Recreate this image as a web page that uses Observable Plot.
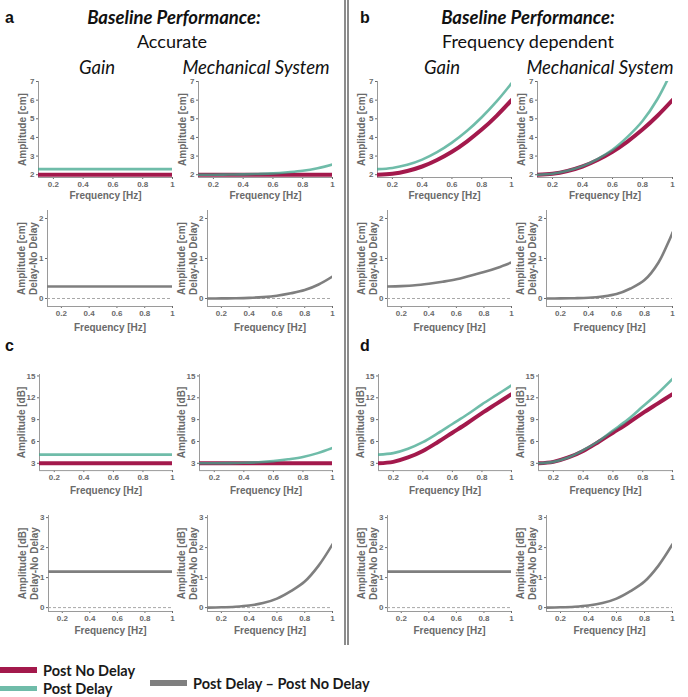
<!DOCTYPE html>
<html>
<head>
<meta charset="utf-8">
<script src="https://cdn.jsdelivr.net/npm/d3@7"></script>
<script src="https://cdn.jsdelivr.net/npm/@observablehq/plot@0.6"></script>
<style>
  html, body { margin: 0; padding: 0; background: #fff; }
  #root { position: relative; width: 688px; height: 697px; overflow: hidden; background: #fff; }
  .t { position: absolute; white-space: nowrap; transform: translate(-50%, -50%); color: #111; font-family: Lato, "Open Sans", sans-serif; }
  .l { position: absolute; white-space: nowrap; transform: translate(0, -50%); color: #1a1a1a; font-family: Lato, "Open Sans", sans-serif; font-weight: bold; font-size: 14.5px; }
  .bar { position: absolute; }
  .letter { position: absolute; font-family: "Liberation Sans", Arial, sans-serif; font-weight: bold; font-size: 16px; color: #111; transform: translate(0, -50%); }
</style>
</head>
<body>
<div id="root"></div>
<script>
// ---------------- data ----------------
const freq = [0.1, 0.2, 0.3, 0.4, 0.5, 0.6, 0.7, 0.8, 0.9, 1.0];
const xTicks = [0.2, 0.4, 0.6, 0.8, 1];
const yTicksCm = [2, 3, 4, 5, 6, 7];
const yTicksCmDiff = [0, 1, 2];
const yTicksDb = [3, 6, 9, 12, 15];
const yTicksDbDiff = [0, 1, 2, 3];

// a: accurate baseline, amplitude [cm]
const aGainNoDelay = [2.0, 2.0, 2.0, 2.0, 2.0, 2.0, 2.0, 2.0, 2.0, 2.0];
const aGainDelay   = [2.3, 2.3, 2.3, 2.3, 2.3, 2.3, 2.3, 2.3, 2.3, 2.3];
const aMechNoDelay = [2.0, 2.0, 2.0, 2.0, 2.0, 2.0, 2.0, 2.0, 2.0, 2.0];
const aMechDelay   = [2.0, 2.0, 2.01, 2.02, 2.04, 2.07, 2.13, 2.21, 2.35, 2.55];
const aGainDiff    = [0.3, 0.3, 0.3, 0.3, 0.3, 0.3, 0.3, 0.3, 0.3, 0.3];
const aMechDiff    = [0, 0.002, 0.006, 0.015, 0.035, 0.07, 0.13, 0.21, 0.35, 0.55];

// b: frequency-dependent baseline, amplitude [cm]
const bGainNoDelay = [2.0, 2.05, 2.2, 2.44, 2.79, 3.23, 3.78, 4.42, 5.16, 6.0];
const bGainDelay   = [2.3, 2.36, 2.53, 2.81, 3.21, 3.72, 4.34, 5.08, 5.93, 6.9];
const bMechNoDelay = [2.0, 2.05, 2.2, 2.44, 2.79, 3.23, 3.78, 4.42, 5.16, 6.0];
const bMechDelay   = [2.0, 2.05, 2.21, 2.46, 2.84, 3.34, 4.03, 4.88, 6.06, 7.65];
const bGainDiff    = [0.3, 0.31, 0.33, 0.37, 0.42, 0.48, 0.57, 0.66, 0.77, 0.9];
const bMechDiff    = [0, 0.002, 0.007, 0.018, 0.049, 0.11, 0.25, 0.46, 0.9, 1.65];

// c: accurate baseline, amplitude [dB]
const cGainNoDelay = [3.0, 3.0, 3.0, 3.0, 3.0, 3.0, 3.0, 3.0, 3.0, 3.0];
const cGainDelay   = [4.2, 4.2, 4.2, 4.2, 4.2, 4.2, 4.2, 4.2, 4.2, 4.2];
const cMechNoDelay = [3.0, 3.0, 3.0, 3.0, 3.0, 3.0, 3.0, 3.0, 3.0, 3.0];
const cMechDelay   = [3.0, 3.01, 3.03, 3.07, 3.15, 3.3, 3.55, 3.87, 4.4, 5.11];
const cGainDiff    = [1.2, 1.2, 1.2, 1.2, 1.2, 1.2, 1.2, 1.2, 1.2, 1.2];
const cMechDiff    = [0, 0.01, 0.03, 0.07, 0.15, 0.3, 0.55, 0.87, 1.4, 2.11];

// d: frequency-dependent baseline, amplitude [dB]
const dGainNoDelay = [3.0, 3.2, 3.8, 4.7, 5.9, 7.2, 8.5, 9.9, 11.2, 12.5];
const dGainDelay   = [4.2, 4.4, 5.0, 5.9, 7.1, 8.4, 9.7, 11.1, 12.4, 13.7];
const dMechNoDelay = [3.0, 3.2, 3.8, 4.7, 5.9, 7.2, 8.5, 9.9, 11.2, 12.5];
const dMechDelay   = [3.0, 3.2, 3.8, 4.8, 6.0, 7.5, 9.0, 10.8, 12.6, 14.6];
const dGainDiff    = [1.2, 1.2, 1.2, 1.2, 1.2, 1.2, 1.2, 1.2, 1.2, 1.2];
const dMechDiff    = [0, 0.01, 0.03, 0.07, 0.15, 0.3, 0.55, 0.87, 1.4, 2.11];

const legendLabels = ["Post No Delay", "Post Delay", "Post Delay \u2013 Post No Delay"];

// ---------------- style ----------------
const colNoDelay = "#a3194c";
const colDelay = "#3fa58c";
const colDiff = "#7f7f7f";
const axisCol = "#9a9a9a";
const textCol = "#6a6a6a";

const root = document.getElementById("root");

function toRows(arr) { return freq.map((f, i) => ({f, v: arr[i]})); }

function panel(o) {
  const mL = 44, mR = 8, mT = 8, mB = 30;
  const width = (o.x1 - o.x0) + mL + mR;
  const height = (o.yBot - o.yTop) + mT + mB;
  const marks = [
    Plot.ruleX([0.1], {stroke: axisCol, strokeWidth: 1}),
    Plot.ruleY([o.yDomain[0]], {stroke: axisCol, strokeWidth: 1})
  ];
  if (o.diff) {
    marks.push(Plot.ruleY([0], {stroke: "#a8a8a8", strokeWidth: 1, strokeDasharray: "3,2"}));
    marks.push(Plot.line(toRows(o.diff), {x: "f", y: "v", stroke: colDiff, strokeWidth: 2.6, curve: "catmull-rom", clip: true}));
  } else {
    marks.push(Plot.line(toRows(o.noDelay), {x: "f", y: "v", stroke: colNoDelay, strokeWidth: 4, curve: "catmull-rom", clip: true}));
    marks.push(Plot.line(toRows(o.delay), {x: "f", y: "v", stroke: colDelay, strokeOpacity: 0.75, strokeWidth: 2.6, curve: "catmull-rom", clip: true}));
  }
  marks.push(Plot.text(["Frequency [Hz]"], {text: d => d, frameAnchor: "bottom", dy: o.fdy, lineAnchor: "middle", fontSize: 10, fontWeight: "bold", fill: textCol}));
  marks.push(Plot.text([o.yLabel], {text: d => d, frameAnchor: "left", dx: o.ldx, rotate: -90, textAnchor: "middle", lineAnchor: "middle", lineHeight: 1.15, fontSize: 10, fontWeight: "bold", fill: textCol}));
  const svg = Plot.plot({
    width, height,
    marginLeft: mL, marginRight: mR, marginTop: mT, marginBottom: mB,
    style: {background: "transparent", overflow: "visible", fontFamily: "'Liberation Sans', Arial, sans-serif", fontSize: "8px", fontWeight: "bold", color: textCol},
    x: {domain: [0.1, 1], ticks: xTicks, tickFormat: d => d === 1 ? "1" : d.toFixed(1), tickSize: 2, tickPadding: 2, label: null},
    y: {domain: o.yDomain, ticks: o.yTicks, tickFormat: d => String(d), tickSize: 2, tickPadding: 2, label: null},
    marks
  });
  svg.style.position = "absolute";
  svg.style.left = (o.x0 - mL) + "px";
  svg.style.top = (o.yTop - mT) + "px";
  root.appendChild(svg);
}

const rows = {
  r1: {yTop: 81, yBot: 177, yDomain: [1.85, 7], yTicks: yTicksCm, yLabel: "Amplitude [cm]", fdy: 18, ldx: -16},
  r2: {yTop: 210, yBot: 306, yDomain: [-0.2, 2.2], yTicks: yTicksCmDiff, yLabel: "Amplitude [cm]\nDelay-No Delay", fdy: 21, ldx: -20},
  r3: {yTop: 373.5, yBot: 469.6, yDomain: [2, 15.2], yTicks: yTicksDb, yLabel: "Amplitude [dB]", fdy: 20, ldx: -18},
  r4: {yTop: 515, yBot: 611, yDomain: [-0.13, 3.07], yTicks: yTicksDbDiff, yLabel: "Amplitude [dB]\nDelay-No Delay", fdy: 19, ldx: -20}
};

// row 1
panel({...rows.r1, x0: 38, x1: 172, noDelay: aGainNoDelay, delay: aGainDelay});
panel({...rows.r1, x0: 198, x1: 332, noDelay: aMechNoDelay, delay: aMechDelay});
panel({...rows.r1, x0: 377, x1: 511, noDelay: bGainNoDelay, delay: bGainDelay});
panel({...rows.r1, x0: 537, x1: 672, noDelay: bMechNoDelay, delay: bMechDelay});
// row 2
panel({...rows.r2, x0: 47, x1: 172, diff: aGainDiff});
panel({...rows.r2, x0: 207, x1: 332, diff: aMechDiff});
panel({...rows.r2, x0: 387, x1: 511, diff: bGainDiff});
panel({...rows.r2, x0: 546, x1: 672, diff: bMechDiff});
// row 3
panel({...rows.r3, x0: 39, x1: 172, noDelay: cGainNoDelay, delay: cGainDelay});
panel({...rows.r3, x0: 199, x1: 332, noDelay: cMechNoDelay, delay: cMechDelay});
panel({...rows.r3, x0: 378, x1: 511, noDelay: dGainNoDelay, delay: dGainDelay});
panel({...rows.r3, x0: 538, x1: 672, noDelay: dMechNoDelay, delay: dMechDelay});
// row 4
panel({...rows.r4, x0: 48, x1: 172, diff: cGainDiff});
panel({...rows.r4, x0: 207, x1: 332, diff: cMechDiff});
panel({...rows.r4, x0: 387, x1: 511, diff: dGainDiff});
panel({...rows.r4, x0: 546, x1: 672, diff: dMechDiff});

// ---------------- text decorations ----------------
function addText(cls, txt, x, y, css) {
  const d = document.createElement("div");
  d.className = cls;
  d.textContent = txt;
  d.style.left = x + "px";
  d.style.top = y + "px";
  Object.assign(d.style, css || {});
  root.appendChild(d);
  return d;
}
function addBar(x, y, w, h, color) {
  const d = document.createElement("div");
  d.className = "bar";
  Object.assign(d.style, {left: x + "px", top: y + "px", width: w + "px", height: h + "px", background: color});
  root.appendChild(d);
}

// panel letters
addText("letter", "a", 5, 18);
addText("letter", "b", 360, 18);
addText("letter", "c", 5, 346);
addText("letter", "d", 360, 346);

// headers
const hBold = {fontWeight: "bold", fontStyle: "italic", fontSize: "18.5px"};
const hReg = {fontSize: "18px"};
const hIt = {fontStyle: "italic", fontSize: "18.5px"};
addText("t", "Baseline Performance:", 174, 17, hBold);
addText("t", "Accurate", 172, 41, hReg);
addText("t", "Gain", 97, 67, hIt);
addText("t", "Mechanical System", 256, 67, hIt);
addText("t", "Baseline Performance:", 528, 17, hBold);
addText("t", "Frequency dependent", 528, 41, hReg);
addText("t", "Gain", 442, 67, hIt);
addText("t", "Mechanical System", 600, 67, hIt);

// double separator line
addBar(344, 0, 1.6, 645, "#8c8c8c");
addBar(347.4, 0, 1.6, 645, "#8c8c8c");

// legend
addBar(0, 667, 37, 6, colNoDelay);
addText("l", legendLabels[0], 43, 670);
addBar(0, 686, 37, 5, "#6fbca9");
addText("l", legendLabels[1], 43, 688);
addBar(150, 680, 37, 6, colDiff);
addText("l", legendLabels[2], 193, 683);
</script>
</body>
</html>
